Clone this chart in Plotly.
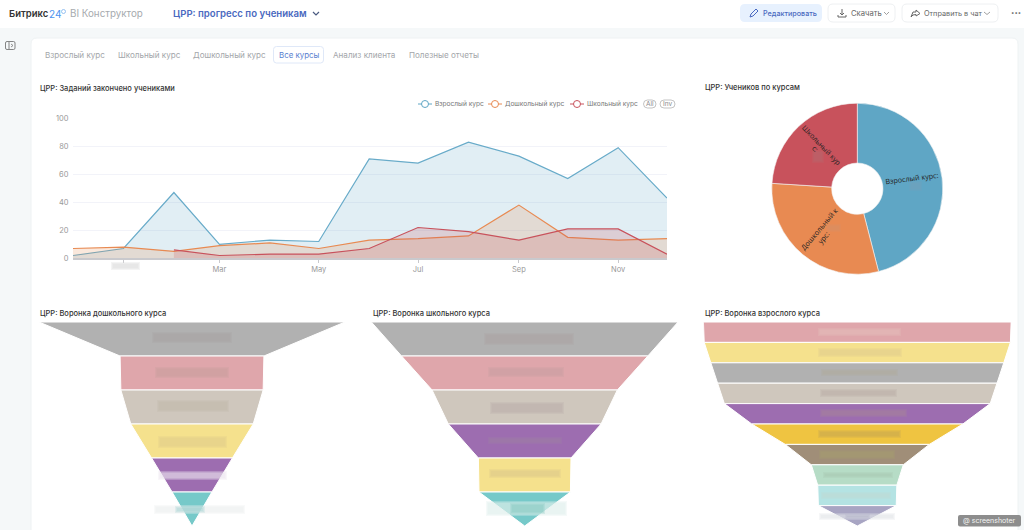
import plotly.graph_objects as go

W, H = 1024, 530

# line chart data
months = ["2022-12-01", "2023-01-01", "2023-02-01", "2023-03-01", "2023-04-01", "2023-05-01", "2023-06-01",
          "2023-07-01", "2023-08-01", "2023-09-01", "2023-10-01", "2023-11-01", "2023-12-01"]
adult = [2, 7, 47, 10, 13, 12, 71, 68, 83, 73, 57, 79, 43]
preschool = [7, 8, 5, 9, 11, 7, 13, 14, 16, 38, 15, 13, 14]
school_months = months[2:]
school = [6, 2, 3, 3, 7, 22, 19, 13, 21, 21, 3]
tick_dates = ["2023-01-01", "2023-03-01", "2023-05-01", "2023-07-01", "2023-09-01", "2023-11-01"]
tick_labels = [" ", "Mar", "May", "Jul", "Sep", "Nov"]
y_ticks = [0, 20, 40, 60, 80, 100]

# pie data
pie_labels = ["Взрослый курс", "Дошкольный курс", "Школьный курс"]
pie_values = [46, 30, 24]

# funnels, widths in percent
preschool_funnel = [100, 47, 46.5, 40, 26.4, 13]
school_funnel = [100, 80.3, 60.4, 49.8, 30.2, 29.8]
adult_funnel = [100, 99.5, 95.2, 90.8, 86.4, 68.6, 46.8, 29.9, 25.7, 25.3]

BLUE, ORANGE, RED = "#5fa6c5", "#e88a52", "#c8525c"
GRAY, PINK, BEIGE, YELLOW, PURPLE = "#b1b1b1", "#dfa6ab", "#cfc7bd", "#f5e18d", "#9d6db0"
GOLD, BROWN, MINT, AQUA, LAV, TEAL = "#efc441", "#a08e78", "#b6dcc6", "#b4e3e3", "#a8a5c3", "#76c9c9"
FONT = "Inter"


def X(px):
    return px / W


def Y(py):
    return 1 - py / H


shapes = []
annotations = []


def text(x, y, s, size=8, color="#333", anchor="left", weight=400, angle=0, family=FONT):
    annotations.append(dict(
        x=X(x), y=Y(y), xref="paper", yref="paper", text=s, showarrow=False,
        xanchor=anchor, yanchor="middle", textangle=angle, borderpad=0,
        font=dict(family=family, size=size, color=color, weight=weight)))


def rrect(x0, y0, x1, y1, r, fill=None, line=None, width=1, layer="below"):
    p = (f"M {X(x0 + r)} {Y(y0)} L {X(x1 - r)} {Y(y0)} Q {X(x1)} {Y(y0)} {X(x1)} {Y(y0 + r)} "
         f"L {X(x1)} {Y(y1 - r)} Q {X(x1)} {Y(y1)} {X(x1 - r)} {Y(y1)} L {X(x0 + r)} {Y(y1)} "
         f"Q {X(x0)} {Y(y1)} {X(x0)} {Y(y1 - r)} L {X(x0)} {Y(y0 + r)} Q {X(x0)} {Y(y0)} {X(x0 + r)} {Y(y0)} Z")
    shapes.append(dict(type="path", path=p, xref="paper", yref="paper", layer=layer,
                       fillcolor=fill or "rgba(0,0,0,0)",
                       line=dict(color=line or "rgba(0,0,0,0)", width=width if line else 0)))


def stroke(points, color, width=1, layer="below"):
    p = "M " + " L ".join(f"{X(a)} {Y(b)}" for a, b in points)
    shapes.append(dict(type="path", path=p, xref="paper", yref="paper", layer=layer,
                       line=dict(color=color, width=width)))


def blur(x0, y0, x1, y1, rgb, alpha=0.5):
    # hidden values in the reference are smudged, stacked rects fake the soft edge
    for inset in (0, 1, 2):
        shapes.append(dict(type="rect", xref="paper", yref="paper", layer="above",
                           x0=X(x0 + inset), x1=X(x1 - inset), y0=Y(y0 + inset), y1=Y(y1 - inset),
                           fillcolor=f"rgba({rgb},{alpha / 3})", line=dict(width=0)))


# page chrome
shapes.append(dict(type="rect", xref="paper", yref="paper", layer="below", x0=0, x1=1, y0=Y(28), y1=1,
                   fillcolor="white", line=dict(width=0)))
rrect(31, 38, 1018, 560, 6, fill="white", line="#eef2f3")

text(8, 13.5, "Битрикс", 9.5, "#333", weight=600)
text(48, 13.5, "24", 10, "#4d93ee")
text(69, 13.5, "BI Конструктор", 9.8, "#a6aaae")
text(172, 13.5, "ЦРР: прогресс по ученикам", 9.6, "#4a69c0", weight=600)
stroke([(313, 12), (316, 15), (319, 12)], "#4a5a80", 1.2)
shapes.append(dict(type="circle", xref="paper", yref="paper", layer="below",
                   x0=X(61.5), x1=X(65.5), y0=Y(9.5), y1=Y(13.5), line=dict(color="#7fb2ec", width=0.8)))

rrect(740, 4, 822, 22, 5, fill="#e7f1fe")
text(762, 13.5, "Редактировать", 7.2, "#4a69c0", weight=500)
stroke([(750, 17), (751, 14), (756, 9), (758, 11), (753, 16), (750, 17)], "#4a69c0", 1)
rrect(828, 4, 895, 22, 5, line="#eef0f2")
text(850, 13.5, "Скачать", 7.7, "#666")
stroke([(842, 9), (842, 15)], "#666", 1)
stroke([(840, 13), (842, 15), (844, 13)], "#666", 1)
stroke([(838, 15), (838, 17), (846, 17), (846, 15)], "#666", 1)
stroke([(884, 12), (886.5, 14.5), (889, 12)], "#888", 0.8)
rrect(902, 4, 998, 22, 5, line="#eef0f2")
text(923, 13.5, "Отправить в чат", 7.3, "#666")
stroke([(911, 17), (913, 12), (916, 12), (916, 10), (920, 13.5), (916, 16), (916, 14.5), (913, 15), (911, 17)], "#666", 1)
stroke([(984, 12), (987, 14.5), (990, 12)], "#888", 0.8)
text(1016, 13, "•••", 6, "#666", anchor="center")

rrect(5.5, 41.5, 15, 49.5, 1.5, line="#777", width=0.9)
stroke([(9, 42), (9, 49)], "#777", 0.9)
stroke([(11, 44), (13, 45.5), (11, 47)], "#777", 0.8)

# tabs
for tab_x, tab in [(44, "Взрослый курс"), (117, "Школьный курс"), (192, "Дошкольный курс"),
                   (332, "Анализ клиента"), (408, "Полезные отчеты")]:
    text(tab_x, 55, tab, 8.1, "#a3a6aa")
rrect(273.5, 46.5, 323.5, 63, 3, line="#dfe8f8")
text(278, 55, "Все курсы", 7.9, "#5a7fd0")

# chart titles
text(39, 88, "ЦРР: Заданий закончено учениками", 7.5, "#333", weight=500)
text(704, 88, "ЦРР: Учеников по курсам", 7.5, "#333", weight=500)
text(39, 313, "ЦРР: Воронка дошкольного курса", 7.5, "#333", weight=500)
text(372, 313, "ЦРР: Воронка школьного курса", 7.5, "#333", weight=500)
text(704, 313, "ЦРР: Воронка взрослого курса", 7.5, "#333", weight=500)

fig = go.Figure()


def fade(color):
    r, g, b = int(color[1:3], 16), int(color[3:5], 16), int(color[5:7], 16)
    return f"rgba({r},{g},{b},0.2)"


for name, xs, ys, color in [(pie_labels[0], months, adult, "#68abc9"),
                            (pie_labels[1], months, preschool, ORANGE),
                            (pie_labels[2], school_months, school, RED)]:
    fig.add_trace(go.Scatter(x=xs, y=ys, name=name, mode="lines", fill="tozeroy", fillcolor=fade(color),
                             line=dict(color=color, width=1.2), showlegend=False))

# legend drawn by hand, it is tighter than the native one
for lx, name, color in [(418, pie_labels[0], BLUE), (488, pie_labels[1], ORANGE), (570, pie_labels[2], RED)]:
    stroke([(lx, 104), (lx + 14, 104)], color, 1)
    shapes.append(dict(type="circle", xref="paper", yref="paper", layer="below",
                       x0=X(lx + 3.5), x1=X(lx + 10.5), y0=Y(100.5), y1=Y(107.5),
                       fillcolor="white", line=dict(color=color, width=1)))
    text(lx + 16, 104, name, 6.6, "#777")
rrect(643.5, 100, 656, 108, 4, line="#aaa", width=0.7)
text(649.8, 104, "All", 6.5, "#888", anchor="center")
rrect(660, 100, 675, 108, 4, line="#aaa", width=0.7)
text(667.5, 104, "Inv", 6.5, "#888", anchor="center")

# pie
fig.add_trace(go.Pie(labels=pie_labels, values=pie_values, sort=False, direction="clockwise", rotation=0,
                     hole=0.3, textinfo="none", showlegend=False,
                     marker=dict(colors=[BLUE, ORANGE, RED], line=dict(color="#f3f3f3", width=0.6)),
                     domain=dict(x=[X(857.3 - 85.5), X(857.3 + 85.5)], y=[Y(188.7 + 85.5), Y(188.7 - 85.5)])))
text(912, 177.5, "Взрослый курс:", 7.2, "#222", anchor="center", angle=-7, family="Open Sans")
text(822, 144.5, "Школьный кур", 7.2, "#222", anchor="center", angle=46, family="Open Sans")
text(815, 148, "с:", 7.2, "#222", anchor="center", angle=46, family="Open Sans")
text(819, 229, "Дошкольный к", 7.2, "#222", anchor="center", angle=-50, family="Open Sans")
text(823, 238, "урс:", 7.2, "#222", anchor="center", angle=-50, family="Open Sans")
blur(909, 181, 922, 191, "120,160,185", 0.6)
blur(826, 224, 841, 232, "205,150,110", 0.5)
blur(812, 150, 824, 163, "180,110,115", 0.6)

# funnels
funnels = [
    (preschool_funnel, [GRAY, PINK, BEIGE, YELLOW, PURPLE, TEAL], 192, 306, 2),
    (school_funnel, [GRAY, PINK, BEIGE, PURPLE, YELLOW, TEAL], 524.7, 306.7, 3),
    (adult_funnel, [PINK, YELLOW, GRAY, BEIGE, PURPLE, GOLD, BROWN, MINT, AQUA, LAV], 857.3, 307.7, 4),
]
axes = {}
for widths, colors, center, span, idx in funnels:
    for i, (top, color) in enumerate(zip(widths, colors)):
        bottom = widths[i + 1] if i + 1 < len(widths) else 0
        fig.add_trace(go.Scatter(
            x=[-top / 2, top / 2, bottom / 2, -bottom / 2, -top / 2],
            y=[i, i, i + 1, i + 1, i],
            xaxis=f"x{idx}", yaxis=f"y{idx}", mode="lines", fill="toself", fillcolor=color,
            line=dict(color="white", width=1), showlegend=False, hoverinfo="skip"))
    axes[f"xaxis{idx}"] = dict(domain=[X(center - span / 2), X(center + span / 2)], range=[-50, 50],
                               visible=False, anchor=f"y{idx}", fixedrange=True)
    axes[f"yaxis{idx}"] = dict(domain=[Y(526), Y(322)], range=[len(widths), 0],
                               visible=False, anchor=f"x{idx}", fixedrange=True)

# smudged labels, colours sampled by eye per row
for box, rgb in [((152, 332, 232, 343), "169,165,165"), ((155, 367, 229, 378), "203,158,160"),
                 ((157, 400, 229, 412), "196,184,172"), ((158, 436, 227, 448), "224,206,140"),
                 ((484, 333, 574, 345), "171,167,167"), ((488, 367, 564, 377), "201,158,162"),
                 ((490, 402, 564, 414), "190,176,172"), ((488, 437, 562, 444), "160,127,164"),
                 ((489, 469, 561, 478), "221,203,140"),
                 ((818, 328, 901, 336), "227,189,184"), ((818, 348, 902, 357), "224,204,142"),
                 ((821, 369, 898, 376), "176,172,160"), ((820, 389, 897, 397), "189,175,170"),
                 ((820, 409, 907, 417), "165,129,154"), ((818, 430, 901, 438), "201,168,79"),
                 ((819, 450, 895, 459), "165,154,111"), ((823, 472, 893, 478), "168,201,179"),
                 ((821, 492, 891, 499), "192,217,213")]:
    blur(*box, rgb, 0.9)
blur(158, 471, 227, 480, "235,228,238", 0.9)
blur(154, 505, 245, 514, "236,240,240", 0.95)
blur(175, 506, 205, 513, "150,205,205", 0.6)
blur(486, 501, 567, 516, "225,238,235", 0.95)
blur(510, 503, 545, 514, "130,200,190", 0.7)
blur(819, 513, 895, 520, "225,228,232", 0.9)
blur(845, 514, 870, 519, "170,170,195", 0.5)

# first x tick label is smudged too
blur(111, 262, 140, 270, "220,220,220", 0.9)

# screenshoter badge
rrect(958, 515, 1021, 526.5, 2, fill="#8d8d8d", layer="above")
text(989.5, 520.8, "@ screenshoter", 7, "#f4f4f4", anchor="center")

fig.update_layout(
    width=W, height=H, margin=dict(l=0, r=0, t=0, b=0, autoexpand=False), autosize=False,
    paper_bgcolor="#f5f8f9", plot_bgcolor="rgba(0,0,0,0)", showlegend=False,
    font=dict(family=FONT),
    xaxis=dict(domain=[X(73), X(667)], type="date", range=[months[0], months[-1]], tickvals=tick_dates,
               ticktext=tick_labels, showgrid=False, showline=True, linecolor="#c9c9cd", linewidth=1.5,
               ticks="outside", ticklen=3, tickcolor="#c9c9cd", tickfont=dict(size=7.5, color="#999"),
               fixedrange=True, anchor="y"),
    yaxis=dict(domain=[Y(258.3), Y(118.3)], range=[0, 100], tickvals=y_ticks, showgrid=True, gridcolor="#f2f3f9",
               zeroline=False, showline=False, tickfont=dict(size=7.5, color="#999"), fixedrange=True, anchor="x",
               ticklen=2, ticks="outside", tickcolor="rgba(0,0,0,0)"),
    shapes=shapes, annotations=annotations, **axes,
)

fig.write_html("out.html", config=dict(displayModeBar=False),
               post_script="document.body.style.margin='0';document.documentElement.style.overflow='hidden';")
